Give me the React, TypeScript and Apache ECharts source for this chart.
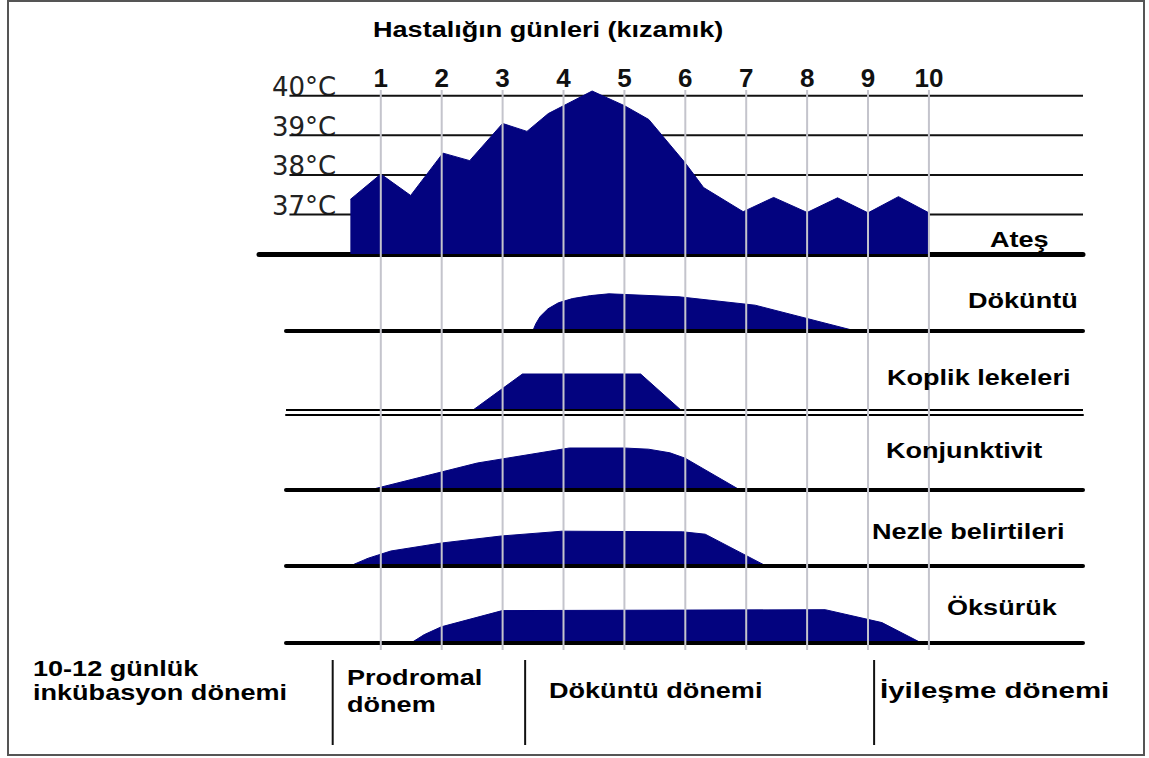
import React, { useEffect, useRef } from 'react';
import * as echarts from 'echarts';

// ---- data (days on x; temperature in °C; symptom intensity in relative units) ----
const dayLines = [1, 2, 3, 4, 5, 6, 7, 8, 9, 10];
const dayLabels = ['1', '2', '3', '4', '5', '6', '7', '8', '9', '10'];
const tempLevels = [37, 38, 39, 40];
const tempLabels = ['37°C', '38°C', '39°C', '40°C'];

const fever: [number, number][] = [
  [0.5, 37.38], [1.0, 38.02], [1.49, 37.48], [2.02, 38.55], [2.46, 38.36], [3.0, 39.3],
  [3.4, 39.1], [3.75, 39.55], [4.47, 40.12], [5.0, 39.75], [5.4, 39.4], [6.0, 38.3],
  [6.3, 37.68], [6.95, 37.07], [7.45, 37.43], [8.0, 37.05], [8.5, 37.42], [9.0, 37.04],
  [9.5, 37.45], [10.0, 37.04],
];
const rash: [number, number][] = [
  [3.5, 0], [3.55, 1.2], [3.62, 2.4], [3.75, 3.7], [3.92, 4.7], [4.15, 5.4], [4.45, 5.9],
  [4.75, 6.2], [5.9, 5.7], [7.15, 4.3], [8.8, 0],
];
const koplik: [number, number][] = [[2.52, 0], [3.33, 6.0], [5.27, 6.0], [5.93, 0]];
const conjunctivitis: [number, number][] = [
  [0.82, 0], [2.59, 4.5], [4.1, 7.0], [5.0, 7.0], [5.4, 6.8], [5.75, 6.2], [6.0, 5.3], [6.9, 0],
];
const coryza: [number, number][] = [
  [0.5, 0], [0.8, 1.3], [1.17, 2.5], [1.98, 3.8], [2.98, 5.0], [3.98, 5.8], [5.96, 5.7],
  [6.33, 5.3], [7.33, 0],
];
const cough: [number, number][] = [
  [1.5, 0], [1.72, 1.4], [2.0, 2.7], [3.0, 5.4], [8.3, 5.55], [9.23, 3.4], [9.88, 0],
];
const periodBoundaries = [0.21, 3.37, 9.1];

const panelNames = ['Ateş', 'Döküntü', 'Koplik lekeleri', 'Konjunktivit', 'Nezle belirtileri', 'Öksürük'];
const title = 'Hastalığın günleri (kızamık)';
const periodTexts = [
  ['10-12 günlük', 'inkübasyon dönemi'],
  ['Prodromal', 'dönem'],
  ['Döküntü dönemi'],
  ['İyileşme dönemi'],
];

// ---- styling / layout ----
const NAVY = '#03037f';
const FONT = 'bold 22px "Liberation Sans", Arial, sans-serif';
const SX = 1.23;
const X_MAX = 12.53;

function buildOption() {
  const symptomGrids = [
    { top: 283, height: 48 },
    { top: 362, height: 52.5 },
    { top: 442, height: 48 },
    { top: 518, height: 48 },
    { top: 595, height: 48 },
  ];
  const grid: any[] = [
    { left: 259, right: 66, top: 76, height: 178 },
    ...symptomGrids.map((g) => ({ left: 286, right: 66, top: g.top, height: g.height })),
    { left: 259, right: 66, top: 90, height: 560 },
    { left: 259, right: 66, top: 660, height: 85 },
  ];

  const hiddenAxis = {
    axisLine: { show: false }, axisTick: { show: false }, axisLabel: { show: false }, splitLine: { show: false },
  };

  const xAxis: any[] = [
    {
      type: 'value', gridIndex: 0, min: -1, max: X_MAX, ...hiddenAxis,
      axisLine: { show: true, lineStyle: { color: '#000', width: 5 } },
    },
    ...[1, 2, 3, 4, 5].map((i) => ({
      type: 'value', gridIndex: i, min: -0.55, max: X_MAX, ...hiddenAxis, z: 5,
      axisLine: { show: true, onZero: false, lineStyle: { color: '#000', width: i === 2 ? 2 : 4 } },
    })),
    {
      type: 'value', gridIndex: 6, position: 'top', min: -1, max: X_MAX, interval: 1,
      axisLine: { show: false }, axisTick: { show: false }, splitLine: { show: false },
      axisLabel: {
        show: true, margin: 4, lineHeight: 16,
        formatter: (v: number) => { const k = dayLines.indexOf(v); return k >= 0 ? dayLabels[k] : ''; },
        fontSize: 26, fontWeight: 'bold', fontFamily: '"Liberation Sans", Arial, sans-serif', color: '#111',
      },
    },
    { type: 'value', gridIndex: 7, min: -1, max: X_MAX, ...hiddenAxis },
  ];

  const yAxis: any[] = [
    {
      type: 'value', gridIndex: 0, min: 36, max: 40.5, interval: 1,
      axisLine: { show: false }, axisTick: { show: false }, splitLine: { show: false },
      axisLabel: {
        show: true, inside: true, margin: 13, verticalAlign: 'bottom', lineHeight: 17,
        formatter: (v: number) => { const k = tempLevels.indexOf(v); return k >= 0 ? tempLabels[k] : ''; },
        fontSize: 26, fontFamily: '"DejaVu Sans", sans-serif', color: '#222',
      },
    },
    ...[1, 2, 3, 4, 5].map((i) => ({
      type: 'value', gridIndex: i, min: i === 2 ? -0.75 : 0, max: 8, ...hiddenAxis,
    })),
    { type: 'value', gridIndex: 6, min: 0, max: 1, ...hiddenAxis },
    { type: 'value', gridIndex: 7, min: 0, max: 1, ...hiddenAxis },
  ];

  const area = (idx: number, data: [number, number][]) => ({
    type: 'line', xAxisIndex: idx, yAxisIndex: idx, data, symbol: 'none', silent: true,
    lineStyle: { color: NAVY, width: 1 }, areaStyle: { color: NAVY, opacity: 1, origin: idx === 0 ? 'start' : 'auto' },
    z: 3,
  });
  const seg = (idx: number, data: [number, number][], color: string, width: number, z: number) => ({
    type: 'line', xAxisIndex: idx, yAxisIndex: idx, data, symbol: 'none', silent: true,
    lineStyle: { color, width }, z,
  });

  const series: any[] = [
    ...tempLevels.map((t) => seg(0, [[-0.5, t], [X_MAX, t]], '#111', 2, 1)),
    area(0, fever),
    area(1, rash),
    area(2, koplik),
    seg(2, [[-0.55, 0], [X_MAX, 0]], '#000', 2, 6),
    area(3, conjunctivitis),
    area(4, coryza),
    area(5, cough),
    ...dayLines.map((d) => seg(6, [[d, 0], [d, 1]], '#c4c4cc', 2, 10)),
    ...periodBoundaries.map((d) => seg(7, [[d, 0], [d, 1]], '#111', 2, 10)),
  ];

  const txt = (text: string, x: number, y: number, sx: number = SX) => ({
    type: 'text', x, y, scaleX: sx, z: 100, silent: true,
    style: { text, font: FONT, fill: '#000', textAlign: 'left', textVerticalAlign: 'middle' },
  });

  const labelPos = [
    [990, 239], [968, 300], [887, 377], [886, 450], [872, 531], [947, 607],
  ];
  const periodPos = [[33, 668, 24, SX], [347, 677, 27, SX], [549, 690, 0, SX], [880, 690, 0, 1.34]];

  const graphic: any[] = [
    {
      type: 'rect', z: -1, silent: true,
      shape: { x: 8, y: 1, width: 1136, height: 754 },
      style: { fill: 'none', stroke: '#555', lineWidth: 2 },
    },
    txt(title, 373, 29),
    ...panelNames.map((n, i) => txt(n, labelPos[i][0], labelPos[i][1])),
  ];
  periodTexts.forEach((lines, i) => {
    lines.forEach((l, j) =>
      graphic.push(txt(l, periodPos[i][0], periodPos[i][1] + j * periodPos[i][2], periodPos[i][3])),
    );
  });

  return { animation: false, backgroundColor: '#fff', grid, xAxis, yAxis, series, graphic };
}

export default function App() {
  const ref = useRef<HTMLDivElement>(null);
  useEffect(() => {
    const chart = echarts.init(ref.current!, null, { renderer: 'svg' });
    chart.setOption(buildOption() as any);
    return () => chart.dispose();
  }, []);
  return (
    <div
      ref={ref}
      style={{ position: 'fixed', left: 0, top: 0, width: 1149, height: 758, background: '#fff' }}
    />
  );
}
